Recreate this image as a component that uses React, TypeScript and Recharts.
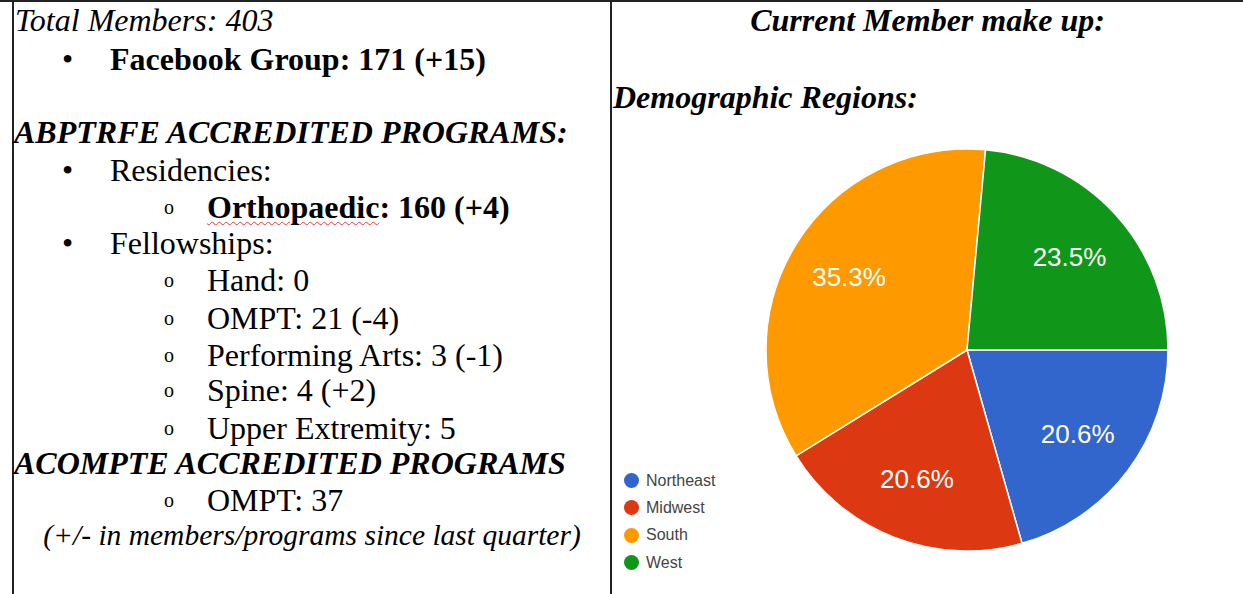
import { PieChart, Pie, Cell, Legend } from 'recharts';

const regions = ['Northeast', 'Midwest', 'South', 'West'];
const members = [7, 7, 12, 8];
const COLORS = ['#3366cc', '#dc3912', '#ff9900', '#109618'];

const pieData = regions.map((name, i) => ({ name, value: members[i] }));

const SERIF = '"Liberation Serif", "Times New Roman", serif';
const SANS = '"Liberation Sans", Arial, sans-serif';
const RADIAN = Math.PI / 180;

// lines of the left cell, positioned by their vertical centre
const leftLines: { y: number; node: any; x: number; bullet?: string; bx?: number }[] = [
  { y: 20, x: 15, node: <i>Total Members: 403</i> },
  { y: 59, x: 110, bullet: '•', bx: 62, node: <b>Facebook Group: 171 (+15)</b> },
  { y: 132, x: 14, node: <b><i>ABPTRFE ACCREDITED PROGRAMS:</i></b> },
  { y: 170, x: 110, bullet: '•', bx: 62, node: <span>Residencies:</span> },
  {
    y: 207,
    x: 207,
    bullet: 'o',
    bx: 164,
    node: (
      <b>
        <span style={{ textDecoration: 'underline wavy #e53935', textDecorationThickness: 1, textUnderlineOffset: 3 }}>
          Orthopaedic
        </span>
        : 160 (+4)
      </b>
    ),
  },
  { y: 243, x: 110, bullet: '•', bx: 62, node: <span>Fellowships:</span> },
  { y: 280, x: 207, bullet: 'o', bx: 164, node: <span>Hand: 0</span> },
  { y: 318, x: 207, bullet: 'o', bx: 164, node: <span>OMPT: 21 (-4)</span> },
  { y: 355, x: 207, bullet: 'o', bx: 164, node: <span>Performing Arts: 3 (-1)</span> },
  { y: 390, x: 207, bullet: 'o', bx: 164, node: <span>Spine: 4 (+2)</span> },
  { y: 428, x: 207, bullet: 'o', bx: 164, node: <span>Upper Extremity: 5</span> },
  { y: 463, x: 14, node: <b><i>ACOMPTE ACCREDITED PROGRAMS</i></b> },
  { y: 500, x: 207, bullet: 'o', bx: 164, node: <span>OMPT: 37</span> },
];

const renderLabel = ({ cx, cy, midAngle, outerRadius, percent }: any) => {
  const r = outerRadius * 0.69;
  const x = cx + r * Math.cos(-midAngle * RADIAN);
  const y = cy + r * Math.sin(-midAngle * RADIAN);
  return (
    <text x={x} y={y} fill="#ffffff" textAnchor="middle" dominantBaseline="central" fontFamily={SANS} fontSize={26}>
      {`${(percent * 100).toFixed(1)}%`}
    </text>
  );
};

const renderLegend = () => (
  <div style={{ fontFamily: SANS, fontSize: 16, color: '#444' }}>
    {pieData.map((d, i) => (
      <div key={d.name} style={{ display: 'flex', alignItems: 'center', height: 27.3 }}>
        <span
          style={{ width: 15, height: 15, borderRadius: 8, background: COLORS[i], display: 'inline-block', marginRight: 7 }}
        />
        {d.name}
      </div>
    ))}
  </div>
);

export default function App() {
  return (
    <div style={{ position: 'absolute', left: 0, top: 0, width: 1243, height: 594, background: '#fff', overflow: 'hidden', fontFamily: SERIF, fontSize: 32, color: '#000' }}>
      {/* table borders */}
      <div style={{ position: 'absolute', left: 0, top: 0, width: 1243, height: 2, background: '#222' }} />
      <div style={{ position: 'absolute', left: 12, top: 0, width: 2, height: 594, background: '#222' }} />
      <div style={{ position: 'absolute', left: 610, top: 0, width: 2, height: 594, background: '#222' }} />

      {leftLines.map((l, i) => (
        <div key={i}>
          {l.bullet && (
            <div style={{ position: 'absolute', left: l.bx, top: l.y - 18, height: 36, lineHeight: '36px', fontSize: l.bullet === 'o' ? 20 : 32, whiteSpace: 'nowrap' }}>
              {l.bullet}
            </div>
          )}
          <div style={{ position: 'absolute', left: l.x, top: l.y - 18, height: 36, lineHeight: '36px', whiteSpace: 'nowrap' }}>
            {l.node}
          </div>
        </div>
      ))}
      <div style={{ position: 'absolute', left: 14, width: 596, top: 535 - 18, height: 36, lineHeight: '36px', textAlign: 'center', whiteSpace: 'nowrap', fontStyle: 'italic', fontSize: 29.5 }}>
        (+/- in members/programs since last quarter)
      </div>

      <div style={{ position: 'absolute', left: 612, width: 631, top: 20 - 18, height: 36, lineHeight: '36px', textAlign: 'center', fontWeight: 'bold', fontStyle: 'italic', whiteSpace: 'nowrap' }}>
        Current Member make up:
      </div>
      <div style={{ position: 'absolute', left: 613, top: 97 - 18, height: 36, lineHeight: '36px', fontWeight: 'bold', fontStyle: 'italic', whiteSpace: 'nowrap' }}>
        Demographic Regions:
      </div>

      <div style={{ position: 'absolute', left: 612, top: 0 }}>
        <PieChart width={631} height={594} margin={{ top: 0, right: 0, bottom: 0, left: 0 }}>
          <Pie
            data={pieData}
            dataKey="value"
            nameKey="name"
            cx={355}
            cy={350}
            outerRadius={201}
            startAngle={0}
            endAngle={-360}
            stroke="#ffffff"
            strokeWidth={1.5}
            labelLine={false}
            label={renderLabel}
            isAnimationActive={false}
          >
            {pieData.map((entry, index) => (
              <Cell key={`cell-${index}`} fill={COLORS[index % COLORS.length]} />
            ))}
          </Pie>
          <Legend content={renderLegend} wrapperStyle={{ left: 12, top: 467, width: 130 }} />
        </PieChart>
      </div>
    </div>
  );
}
